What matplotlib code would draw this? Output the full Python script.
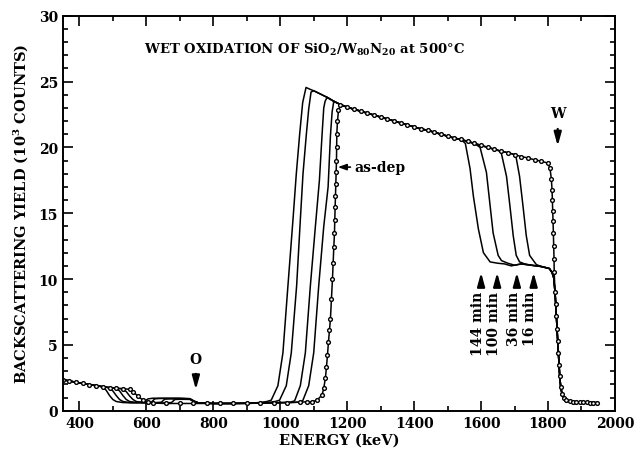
import numpy as np
import matplotlib
matplotlib.use("Agg")
import matplotlib.pyplot as plt
from matplotlib.ticker import MultipleLocator

plt.rcParams['font.family'] = 'DejaVu Serif'
plt.rcParams['font.weight'] = 'bold'
plt.rcParams['mathtext.fontset'] = 'custom'
plt.rcParams['mathtext.rm'] = 'DejaVu Serif:bold'
plt.rcParams['mathtext.it'] = 'DejaVu Serif:bold'
plt.rcParams['mathtext.bf'] = 'DejaVu Serif:bold'

# shared front part (low energy, below the O step)
low_e = [350, 370, 390, 410, 430, 450, 470]
low_y = [2.36, 2.26, 2.16, 2.07, 1.98, 1.90, 1.82]

# shared W plateau
plat_e = [1100, 1120, 1140, 1160, 1180, 1200, 1220, 1240, 1260, 1280, 1300,
          1320, 1340, 1360, 1380, 1400, 1420, 1440, 1460, 1480, 1500, 1520,
          1540, 1560, 1580, 1600, 1620, 1640, 1660, 1680, 1700, 1720, 1740,
          1760, 1780, 1800]
plat_y = [24.3, 24.05, 23.8, 23.5, 23.25, 23.05, 22.9, 22.75, 22.6, 22.45, 22.3,
          22.15, 22.0, 21.85, 21.7, 21.55, 21.4, 21.3, 21.15, 21.0, 20.85, 20.7,
          20.6, 20.45, 20.3, 20.15, 20.0, 19.85, 19.7, 19.6, 19.45, 19.3, 19.2,
          19.05, 18.95, 18.8]

# shared W surface edge and tail
end_e = [1821, 1823, 1825, 1827, 1829, 1831, 1833, 1835, 1838, 1842, 1848, 1855,
         1865, 1875, 1885, 1895, 1905, 1915, 1925, 1935, 1945]
end_y = [9.0, 8.1, 7.2, 6.2, 5.3, 4.4, 3.5, 2.6, 1.8, 1.25, 0.95, 0.8,
         0.72, 0.68, 0.66, 0.65, 0.64, 0.63, 0.62, 0.62, 0.61]

# as-deposited
asdep_a_e = [490, 510, 530, 550, 560, 575, 590, 605, 620, 660, 700, 740, 780, 820,
             860, 900, 940, 980, 1020, 1060, 1080, 1095, 1110, 1125, 1130, 1135,
             1138, 1141, 1144, 1147, 1150, 1153, 1156, 1158, 1160, 1162, 1163, 1164,
             1165, 1166, 1167, 1168, 1168.5, 1169, 1171, 1174]
asdep_a_y = [1.75, 1.7, 1.68, 1.62, 1.45, 1.1, 0.8, 0.65, 0.58, 0.55, 0.55, 0.55, 0.55,
             0.55, 0.55, 0.56, 0.58, 0.6, 0.62, 0.65, 0.68, 0.68, 0.8, 1.2, 1.7, 2.5,
             3.3, 4.2, 5.2, 6.1, 7.0, 8.5, 10.0, 11.2, 12.4, 13.5, 14.5, 15.5, 16.3,
             17.2, 18.1, 19.0, 20.0, 21.0, 22.0, 22.8]
asdep_b_e = [1806, 1810, 1812, 1813, 1814, 1815, 1816, 1817, 1818, 1818.5]
asdep_b_y = [18.4, 17.6, 16.8, 16.0, 15.2, 14.4, 13.5, 12.5, 11.5, 10.5]

# 16 min
m16_a_e = [490, 510, 530, 540, 550, 560, 570, 590, 640, 675, 685, 700, 730, 742, 755,
           800, 900, 1000, 1030, 1055, 1067, 1085, 1100, 1115, 1130, 1143, 1150, 1155]
m16_a_y = [1.75, 1.7, 1.66, 1.45, 1.12, 0.85, 0.7, 0.62, 0.58, 0.62, 0.85, 0.87, 0.86,
           0.7, 0.6, 0.55, 0.56, 0.6, 0.62, 0.65, 0.75, 1.9, 4.4, 9.5, 14.0, 17.0,
           20.9, 22.7]
m16_b_e = [1705, 1715, 1725, 1735, 1745, 1765, 1780, 1804, 1812, 1817]
m16_b_y = [19.2, 17.8, 15.6, 13.3, 11.8, 11.1, 10.95, 10.8, 10.5, 10.1]

# 36 min
m36_a_e = [490, 510, 520, 530, 540, 550, 570, 620, 645, 655, 670, 730, 742, 755, 800,
           850, 900, 950, 1000, 1030, 1043, 1060, 1075, 1090, 1105, 1117, 1125, 1130,
           1134]
m36_a_y = [1.75, 1.7, 1.5, 1.15, 0.85, 0.7, 0.62, 0.6, 0.65, 0.88, 0.9, 0.88, 0.72,
           0.6, 0.55, 0.55, 0.56, 0.58, 0.62, 0.65, 0.75, 1.9, 4.4, 9.5, 14.0, 17.5,
           21.0, 23.0, 23.5]
m36_b_e = [1661, 1676, 1686, 1696, 1705, 1715, 1730, 1750, 1780, 1804, 1812, 1817]
m36_b_y = [19.5, 17.8, 15.6, 13.3, 11.8, 11.3, 11.15, 11.05, 10.95, 10.8, 10.5, 10.1]

# 100 min
m100_a_e = [490, 500, 510, 520, 530, 550, 590, 615, 625, 640, 700, 730, 742, 755, 800,
            850, 900, 940, 970, 985, 998, 1018, 1033, 1049, 1060, 1068, 1078, 1085,
            1092]
m100_a_y = [1.75, 1.5, 1.15, 0.85, 0.7, 0.62, 0.6, 0.65, 0.9, 0.93, 0.93, 0.9, 0.72,
            0.6, 0.55, 0.55, 0.57, 0.6, 0.65, 0.7, 0.8, 1.9, 4.4, 9.5, 14.5, 18.0,
            21.0, 22.9, 24.2]
m100_b_e = [1597, 1616, 1626, 1636, 1651, 1661, 1680, 1700, 1720, 1750, 1780, 1804,
            1812, 1817]
m100_b_y = [20.0, 18.1, 15.8, 13.5, 11.8, 11.4, 11.2, 11.05, 11.15, 11.05, 10.95,
            10.8, 10.5, 10.1]

# 144 min
m144_a_e = [480, 490, 500, 510, 530, 560, 590, 605, 620, 700, 730, 742, 755, 800, 850,
            900, 940, 960, 973, 993, 1008, 1023, 1038, 1048, 1058, 1067, 1077, 1090]
m144_a_y = [1.55, 1.15, 0.85, 0.7, 0.62, 0.6, 0.65, 0.9, 0.95, 0.95, 0.92, 0.75, 0.6,
            0.55, 0.55, 0.57, 0.62, 0.7, 0.8, 1.9, 4.4, 9.5, 14.5, 18.0, 21.0, 23.4,
            24.55, 24.4]
m144_b_e = [1553, 1567, 1577, 1592, 1607, 1627, 1650, 1670, 1690, 1700, 1720, 1750,
            1780, 1804, 1812, 1817]
m144_b_y = [20.3, 18.4, 16.3, 13.8, 12.0, 11.3, 11.2, 11.15, 11.0, 11.05, 11.15,
            11.05, 10.95, 10.8, 10.5, 10.1]

times = ['144 min', '100 min', '36 min', '16 min']
time_arrow_e = [1600, 1648, 1707, 1757]


def build(a_e, a_y, b_e, b_y):
    pe = np.array(plat_e)
    py = np.array(plat_y)
    keep = (pe > a_e[-1]) & (pe < b_e[0])
    e = np.concatenate([low_e, a_e, pe[keep], b_e, end_e])
    y = np.concatenate([low_y, a_y, py[keep], b_y, end_y])
    return e, y


fig = plt.figure(figsize=(6.37, 4.56), dpi=100)
ax = fig.add_axes([0.0984, 0.0971, 0.867, 0.8663])

for a_e, a_y, b_e, b_y in [(m144_a_e, m144_a_y, m144_b_e, m144_b_y),
                           (m100_a_e, m100_a_y, m100_b_e, m100_b_y),
                           (m36_a_e, m36_a_y, m36_b_e, m36_b_y),
                           (m16_a_e, m16_a_y, m16_b_e, m16_b_y)]:
    e, y = build(a_e, a_y, b_e, b_y)
    ax.plot(e, y, color='black', lw=1.1)

e, y = build(asdep_a_e, asdep_a_y, asdep_b_e, asdep_b_y)
ax.plot(e, y, color='black', lw=1.1, marker='o', ms=2.7, mfc='white',
        mec='black', mew=1.0)

ax.set_xlim(350, 2000)
ax.set_ylim(0, 30)
ax.xaxis.set_major_locator(MultipleLocator(200))
ax.xaxis.set_minor_locator(MultipleLocator(100))
ax.yaxis.set_major_locator(MultipleLocator(5))
ax.yaxis.set_minor_locator(MultipleLocator(1))
ax.tick_params(which='both', direction='in', top=True, right=True, width=1.2,
               labelsize=10)
ax.tick_params(which='major', length=7)
ax.tick_params(which='minor', length=3.5)
for s in ax.spines.values():
    s.set_linewidth(1.4)

ax.set_xlabel('ENERGY (keV)', fontsize=10.5, fontweight='bold', labelpad=2)
ax.set_ylabel(r'BACKSCATTERING YIELD (10$^3$ COUNTS)', fontsize=10.5,
              fontweight='bold', labelpad=6)

ax.text(1073, 27.5, r'WET OXIDATION OF SiO$_2$/W$_{80}$N$_{20}$ at 500°C',
        ha='center', va='center', fontsize=9.5, fontweight='bold')

arrow = dict(arrowstyle='-|>,head_length=0.8,head_width=0.22', color='black',
             lw=1.6, shrinkA=0, shrinkB=0)
ax.annotate('', xy=(1829, 20.1), xytext=(1829, 21.4), arrowprops=arrow)
ax.text(1829, 22.6, 'W', ha='center', va='center', fontsize=10, fontweight='bold')
ax.annotate('', xy=(748, 1.6), xytext=(748, 2.8), arrowprops=arrow)
ax.text(748, 3.9, 'O', ha='center', va='center', fontsize=10, fontweight='bold')

ax.annotate('as-dep', xy=(1172, 18.5), xytext=(1222, 18.5), va='center',
            ha='left', fontsize=10, fontweight='bold',
            arrowprops=dict(arrowstyle='-|>,head_length=0.5,head_width=0.18',
                            color='black', lw=1.2, shrinkA=1, shrinkB=0))

for lab, xe in zip(times, time_arrow_e):
    ax.annotate('', xy=(xe, 10.5), xytext=(xe, 9.4), arrowprops=arrow)
    ax.text(xe - 10, 9.1, lab, rotation=90, ha='center', va='top', fontsize=10,
            fontweight='bold')

fig.savefig('out.png', dpi=100)
